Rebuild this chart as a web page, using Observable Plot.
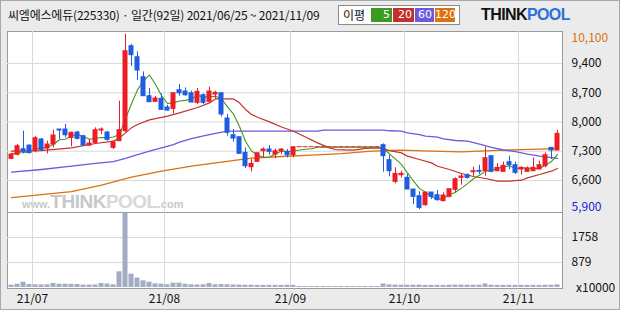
<!DOCTYPE html>
<html><head><meta charset="utf-8">
<script src="https://cdn.jsdelivr.net/npm/d3@7"></script>
<script src="https://cdn.jsdelivr.net/npm/@observablehq/plot@0.6"></script>
<style>
body{margin:0;background:#fff;}
#root{position:relative;width:620px;height:310px;background:#ebebeb;overflow:hidden;font-family:"Noto Sans CJK KR",sans-serif;color:#111;}
#outer{position:absolute;left:0;top:0;width:620px;height:310px;box-sizing:border-box;border:1px solid #a8a8a8;pointer-events:none;}
#title{position:absolute;left:8px;top:6px;font-size:12px;line-height:18px;white-space:nowrap;letter-spacing:-0.2px;}
#legend{position:absolute;left:338px;top:5px;width:122px;height:20px;box-sizing:border-box;border:1px solid #8c8c8c;background:#fff;}
#legend .lbl{position:absolute;left:4px;top:0px;font-size:12px;line-height:18px;}
#legend .sw{position:absolute;top:2px;height:14px;color:#fff;font-size:11px;line-height:14px;text-align:right;padding-right:2px;box-sizing:border-box;font-family:"DejaVu Sans",sans-serif;}
#logo{position:absolute;left:481px;top:6px;font-family:"Liberation Sans",Arial,sans-serif;font-weight:bold;font-size:16px;line-height:18px;letter-spacing:-0.6px;white-space:nowrap;}
#logo .k{color:#111;} #logo .p{color:#2f6fd8;}
#plotbg{position:absolute;left:7px;top:31px;width:556px;height:258px;box-sizing:border-box;border:1px solid #9a9a9a;background:#fff;}
#wm{position:absolute;left:22px;top:193px;height:18px;display:flex;align-items:baseline;white-space:nowrap;color:#c8c8c8;font-family:"Liberation Sans",Arial,sans-serif;font-weight:bold;line-height:17px;}
#wm .s{font-size:11px;} #wm .b{font-size:19px;letter-spacing:-0.5px;} #wm .p{color:#d8d8d8;}
#sep{position:absolute;left:7px;top:212px;width:556px;height:1px;background:#9a9a9a;}
#price{position:absolute;left:0;top:31px;}
#vol{position:absolute;left:0;top:212px;}
#unit{position:absolute;left:576px;top:279px;font-size:12px;line-height:16px;}
svg{overflow:visible;}
</style></head><body>
<div id="root">
  <div id="title"></div>
  <div id="legend"><span class="lbl">이평</span></div>
  <div id="logo"><span class="k">THINK</span><span class="p">POOL</span></div>
  <div id="plotbg"></div>
  <div id="wm"><span class="s">www.</span><span class="b">THINK</span><span class="b p">POOL</span><span class="s">.com</span></div>
  <div id="price"></div>
  <div id="sep"></div>
  <div id="vol"></div>
  <div id="unit">x10000</div>
  <div id="outer"></div>
</div>
<script>
// ---- data ----
const titleText = "씨엠에스에듀(225330) · 일간(92일) 2021/06/25 ~ 2021/11/09";
const maLabels = ["5", "20", "60", "120"];
const maColors = ["#3b9a1f", "#c4302b", "#6a5ade", "#d9720f"];

const opens = [7117,7214,7349,7437,7301,7580,7365,7461,7820,7820,
7620,7748,7660,7437,7501,7796,7748,7381,7541,7780,
9814,9551,9072,8617,8482,8554,8346,8314,8761,8729,
8689,8458,8641,8482,8657,8689,8083,7684,7636,7261,
6918,7046,7301,7341,7221,7301,7285,7205,7397,7397,
7397,7397,7397,7397,7397,7397,7397,7397,7397,7397,
7397,7397,7445,7086,6567,6727,6663,6384,6224,6009,
6312,6248,6105,6208,6376,6663,6727,6799,6831,6823,
7182,6823,6807,7038,6966,6862,6807,6823,6862,6942,
7381,7317];
const highs = [7253,7461,7780,7445,7652,7604,7541,7804,7820,7939,
7756,7780,7676,7580,7860,7860,7780,7541,8498,10100,
9854,9678,9200,8800,8610,8673,8402,8689,8897,8817,
8737,8801,8673,8833,8737,8689,8179,7820,7636,7381,
7102,7253,7381,7437,7349,7365,7341,7397,7397,7397,
7397,7397,7397,7397,7397,7397,7397,7397,7397,7397,
7397,7397,7477,7205,6903,6823,6743,6384,6328,6312,
6312,6360,6304,6392,6663,6759,6759,6918,6966,7397,
7182,7006,7038,7182,7038,6927,6927,7142,7062,7261,
7381,7796];
const lows = [7110,7190,7237,7240,7261,7300,7237,7381,7580,7620,
7405,7570,7420,7420,7485,7700,7540,7341,7541,7750,
9335,8992,8617,8474,8474,8290,8258,8195,8617,8617,
8466,8418,8420,8458,8553,8123,7660,7517,7237,6886,
6807,7046,7142,7205,7118,7221,7142,7142,7397,7397,
7397,7397,7397,7397,7397,7397,7397,7397,7397,7397,
7397,7397,6799,6687,6520,6663,6384,6025,5900,5985,
6145,6105,6089,6185,6304,6488,6630,6703,6743,6703,
6783,6807,6807,6862,6743,6727,6807,6823,6862,6903,
7102,7317];
const closes = [7222,7421,7285,7254,7612,7325,7461,7676,7796,7684,
7740,7596,7437,7485,7804,7820,7572,7517,7804,9694,
9599,9232,8617,8474,8562,8290,8274,8689,8689,8641,
8466,8721,8458,8729,8697,8179,7740,7604,7237,6942,
6998,7253,7341,7285,7301,7341,7205,7397,7397,7397,
7397,7397,7397,7397,7397,7397,7397,7397,7397,7397,
7397,7397,7182,6823,6759,6759,6384,6208,5945,6312,
6208,6129,6240,6392,6631,6695,6663,6823,6807,7134,
6807,6903,6950,6966,6783,6903,6886,6903,6966,7205,
7317,7716];
const volumes = [47,82,152,70,60,55,60,105,80,80,
75,70,50,50,55,105,90,60,516,2578,
434,293,199,152,94,82,60,117,117,80,
60,55,60,105,60,70,60,55,50,45,
45,40,40,40,40,40,45,40,0,0,
0,0,0,0,0,0,0,0,0,0,
0,0,90,60,50,45,45,45,50,40,
40,40,40,45,50,50,45,45,45,90,
45,40,40,40,40,40,40,40,40,45,
45,60];
const ma5 = [7237,7260,7270,7285,7359,7379,7387,7466,7574,7588,
7671,7698,7651,7588,7612,7628,7624,7640,7703,8081,
8437,8769,8989,9123,8897,8635,8443,8458,8501,8517,
8552,8641,8595,8603,8614,8557,8361,8190,7891,7540,
7304,7207,7154,7164,7236,7304,7295,7306,7328,7347,
7359,7397,7397,7397,7397,7397,7397,7397,7397,7397,
7397,7397,7354,7239,7112,6984,6781,6587,6411,6322,
6211,6160,6167,6256,6320,6417,6524,6641,6724,6824,
6847,6895,6920,6952,6882,6901,6898,6888,6888,6973,
7055,7221];
const ma20Idx = [0,5,10,14,17,18,19,20,21,23,26,28,31,33,34,37,38,39,40,41,43,45,47,49,51,53,54,57,59,61,62,63,65,66,68,70,71,73,75,77,79,81,83,85,86,88,90,91];
const ma20Val = [7301,7317,7381,7485,7541,7620,7740,7860,7940,8050,8139,8218,8347,8457,8553,8553,8458,8300,8179,8115,8003,7880,7780,7640,7500,7381,7341,7325,7370,7380,7365,7317,7261,7182,7102,7022,6942,6863,6767,6695,6647,6583,6583,6607,6663,6743,6823,6887];
const ma60Idx = [0,5,10,14,17,19,21,23,25,27,28,30,32,34,36,51,52,62,63,65,66,68,69,71,72,74,76,78,80,82,84,86,88,91];
const ma60Val = [6799,6863,6942,7010,7050,7130,7222,7301,7381,7461,7517,7600,7670,7730,7780,7780,7804,7804,7790,7780,7740,7700,7660,7636,7596,7557,7541,7470,7390,7330,7290,7230,7182,7130];
const ma120Idx = [0,10,15,20,25,30,35,40,45,50,55,60,65,70,75,80,85,91];
const ma120Val = [6188,6335,6487,6679,6823,6942,7038,7134,7174,7205,7245,7301,7325,7301,7285,7317,7341,7365];

const priceTicks = [6600, 7300, 8000, 8700, 9400];
const priceMax = 10100, priceMin = 5900;
const volTicks = [879, 1758];
const monthStarts = [4, 26, 47, 66, 85];
const monthLabels = ["21/07", "21/08", "21/09", "21/10", "21/11"];

// ---- header ----
document.getElementById("title").textContent = titleText;
const legend = document.getElementById("legend");
const swLeft = [32, 54, 76, 96], swWidth = [21, 21, 19, 20];
maLabels.forEach((t, k) => {
  const s = document.createElement("span");
  s.className = "sw"; s.textContent = t;
  s.style.left = swLeft[k] + "px"; s.style.width = swWidth[k] + "px";
  s.style.background = maColors[k];
  legend.appendChild(s);
});

// ---- chart ----
const up = "#ee1c24", down = "#1f5ce0";
const candles = closes.map((c, i) => ({i, o: opens[i], h: highs[i], l: lows[i], c}));
const col = d => d.c >= d.o ? up : down;
const xDomain = [-2/3, 91 + 5/6];
const fmt = d3.format(",");
const monthPos = monthStarts.map(i => i - 0.5);
const labelAt = new Map(monthPos.map((p, k) => [p, monthLabels[k]]));
const pts = (idx, val) => idx.map((i, k) => ({i, v: val[k]}));
const gridC = "#d9d9d9";
const font = '"Noto Sans CJK KR", sans-serif';

const price = Plot.plot({
  width: 620, height: 181,
  marginLeft: 7, marginRight: 58, marginTop: 0, marginBottom: 0,
  x: {domain: xDomain, axis: null},
  y: {domain: [5834, 10166]},
  color: {type: "identity"},
  style: {background: "transparent", fontFamily: font, fontSize: "12px", overflow: "visible"},
  marks: [
    Plot.gridY(priceTicks, {stroke: gridC, strokeOpacity: 1}),
    Plot.gridX(monthPos, {stroke: gridC, strokeOpacity: 1}),
    Plot.line(pts(ma120Idx, ma120Val), {x: "i", y: "v", stroke: maColors[3], strokeWidth: 1.3}),
    Plot.line(pts(ma60Idx, ma60Val), {x: "i", y: "v", stroke: maColors[2], strokeWidth: 1.3}),
    Plot.line(pts(ma20Idx, ma20Val), {x: "i", y: "v", stroke: maColors[1], strokeWidth: 1.2}),
    Plot.line(ma5, {x: (d, i) => i, y: d => d, stroke: maColors[0], strokeWidth: 1.1}),
    Plot.ruleX(candles, {x: "i", y1: "l", y2: "h", stroke: col, strokeWidth: 1}),
    Plot.rect(candles, {x1: d => d.i - 0.5, x2: d => d.i + 0.5, y1: "o", y2: "c", fill: col,
      insetLeft: 0.5, insetRight: 0.5, insetTop: -0.5, insetBottom: -0.5}),
    Plot.axisY(priceTicks, {anchor: "right", tickSize: 0, tickPadding: 9, tickFormat: fmt, fill: "#111", fontSize: 12, label: null}),
    Plot.axisY([priceMax], {anchor: "right", tickSize: 0, tickPadding: 9, tickFormat: fmt, fill: "#d9720f", fontSize: 12, dy: 4, label: null}),
    Plot.axisY([priceMin], {anchor: "right", tickSize: 0, tickPadding: 9, tickFormat: fmt, fill: "#1a22d8", fontSize: 12, dy: -3, label: null})
  ]
});
document.getElementById("price").appendChild(price);

const vol = Plot.plot({
  width: 620, height: 98,
  marginLeft: 7, marginRight: 58, marginTop: 0, marginBottom: 23,
  x: {domain: xDomain},
  y: {domain: [0, 2637]},
  style: {background: "transparent", fontFamily: font, fontSize: "12px", overflow: "visible"},
  marks: [
    Plot.gridY(volTicks, {stroke: gridC, strokeOpacity: 1}),
    Plot.gridX(monthPos, {stroke: gridC, strokeOpacity: 1}),
    Plot.rect(volumes, {x1: (d, i) => i - 0.5, x2: (d, i) => i + 0.5, y1: 0, y2: d => d,
      fill: "#a4abc4", insetLeft: 0.5, insetRight: 0.5, insetTop: -1}),
    Plot.axisY(volTicks, {anchor: "right", tickSize: 0, tickPadding: 9, tickFormat: d => String(d), fill: "#111", fontSize: 12, label: null}),
    Plot.axisX(monthPos, {anchor: "bottom", tickSize: 0, tickPadding: 7, tickFormat: d => labelAt.get(d), fill: "#111", fontSize: 12, label: null})
  ]
});
document.getElementById("vol").appendChild(vol);
</script>
</body></html>
